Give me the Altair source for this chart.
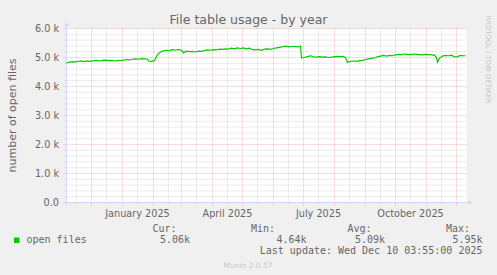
import altair as alt
import pandas as pd

# ---------------- data ----------------
dates = [
    "2024-11-06", "2024-11-09", "2024-11-12", "2024-11-15", "2024-11-18", "2024-11-21",
    "2024-11-24", "2024-11-27", "2024-11-30", "2024-12-03", "2024-12-06", "2024-12-09",
    "2024-12-12", "2024-12-15", "2024-12-18", "2024-12-21", "2024-12-24", "2024-12-27",
    "2024-12-30", "2025-01-02", "2025-01-05", "2025-01-08", "2025-01-11", "2025-01-14",
    "2025-01-17", "2025-01-20", "2025-01-23", "2025-01-26", "2025-01-27", "2025-01-30",
    "2025-02-02", "2025-02-05", "2025-02-08", "2025-02-11", "2025-02-14", "2025-02-17",
    "2025-02-20", "2025-02-23", "2025-02-26", "2025-03-01", "2025-03-03", "2025-03-06",
    "2025-03-09", "2025-03-12", "2025-03-15", "2025-03-18", "2025-03-21", "2025-03-24",
    "2025-03-27", "2025-03-30", "2025-04-02", "2025-04-05", "2025-04-08", "2025-04-11",
    "2025-04-14", "2025-04-17", "2025-04-20", "2025-04-23", "2025-04-26", "2025-04-29",
    "2025-05-02", "2025-05-05", "2025-05-08", "2025-05-11", "2025-05-14", "2025-05-17",
    "2025-05-20", "2025-05-23", "2025-05-26", "2025-05-29", "2025-06-01", "2025-06-04",
    "2025-06-07", "2025-06-10", "2025-06-13", "2025-06-16", "2025-06-19", "2025-06-22",
    "2025-06-25", "2025-06-28", "2025-06-29", "2025-07-02", "2025-07-05", "2025-07-08",
    "2025-07-11", "2025-07-14", "2025-07-17", "2025-07-20", "2025-07-23", "2025-07-26",
    "2025-07-29", "2025-08-01", "2025-08-04", "2025-08-07", "2025-08-10", "2025-08-12",
    "2025-08-14", "2025-08-17", "2025-08-20", "2025-08-23", "2025-08-26", "2025-08-29",
    "2025-09-01", "2025-09-04", "2025-09-07", "2025-09-10", "2025-09-13", "2025-09-16",
    "2025-09-19", "2025-09-22", "2025-09-25", "2025-09-28", "2025-10-01", "2025-10-04",
    "2025-10-07", "2025-10-10", "2025-10-13", "2025-10-16", "2025-10-19", "2025-10-22",
    "2025-10-25", "2025-10-28", "2025-10-31", "2025-11-03", "2025-11-06", "2025-11-09",
    "2025-11-11", "2025-11-12", "2025-11-14", "2025-11-17", "2025-11-20", "2025-11-23",
    "2025-11-26", "2025-11-29", "2025-12-02", "2025-12-05", "2025-12-08", "2025-12-10",
]
values = [
    4810, 4840, 4860, 4850, 4870, 4880,
    4860, 4880, 4870, 4890, 4900, 4880,
    4900, 4910, 4890, 4900, 4880, 4890,
    4900, 4910, 4930, 4920, 4940, 4950,
    4940, 4960, 4950, 4940, 4880, 4870,
    4890, 5100, 5190, 5230, 5250, 5240,
    5270, 5250, 5280, 5250, 5160, 5220,
    5200, 5210, 5190, 5220, 5210, 5240,
    5260, 5250, 5270, 5260, 5290, 5280,
    5300, 5290, 5320, 5300, 5330, 5310,
    5330, 5300, 5320, 5270, 5260, 5280,
    5250, 5290, 5300, 5280, 5310, 5330,
    5350, 5370, 5390, 5370, 5380, 5380,
    5370, 5390, 4990, 5000, 5030, 5060,
    5020, 5010, 5030, 5010, 5020, 5000,
    5010, 5030, 5040, 5030, 5040, 4990,
    4830, 4870, 4880, 4870, 4890, 4900,
    4930, 4950, 4970, 4990, 5020, 5050,
    5070, 5050, 5070, 5060, 5090, 5110,
    5100, 5120, 5110, 5100, 5120, 5110,
    5100, 5090, 5110, 5100, 5090, 5080,
    5000, 4840, 4980, 5050, 5070, 5060,
    5080, 5020, 5030, 5070, 5060, 5060,
]

month_lines = [
    "2024-12-01", "2025-01-01", "2025-02-01", "2025-03-01", "2025-04-01", "2025-05-01",
    "2025-06-01", "2025-07-01", "2025-08-01", "2025-09-01", "2025-10-01", "2025-11-01",
    "2025-12-01",
]
mid_lines = [
    "2024-11-16", "2024-12-16", "2025-01-16", "2025-02-16", "2025-03-16", "2025-04-16",
    "2025-05-16", "2025-06-16", "2025-07-16", "2025-08-16", "2025-09-16", "2025-10-16",
    "2025-11-16",
]
x_tick_dates = ["2025-01-16", "2025-04-16", "2025-07-16", "2025-10-16"]
x_tick_labels = ["January 2025", "April 2025", "July 2025", "October 2025"]
major_y = [0, 1000, 2000, 3000, 4000, 5000, 6000]
y_tick_labels = ["0.0", "1.0 k", "2.0 k", "3.0 k", "4.0 k", "5.0 k", "6.0 k"]
minor_y = [200, 400, 600, 800, 1200, 1400, 1600, 1800, 2200, 2400, 2600, 2800,
           3200, 3400, 3600, 3800, 4200, 4400, 4600, 4800, 5200, 5400, 5600, 5800]

title_text = "File table usage - by year"
y_title = "number of open files"
series_name = "open files"
stat_labels = ["Cur:", "Min:", "Avg:", "Max:"]
stat_values = ["5.06k", "4.64k", "5.09k", "5.95k"]
last_update = "Last update: Wed Dec 10 03:55:00 2025"
footer = "Munin 2.0.57"
watermark = "RRDTOOL / TOBI OETIKER"

# ---------------- styling ----------------
W, H = 400, 174
FONT = "DejaVu Sans"
MONO = "DejaVu Sans Mono"
FONT_COLOR = "#666666"
AXIS_COLOR = "#CFD6F8"
LINE_COLOR = "#00CC00"


def dt(s):
    y, m, d = (int(p) for p in s.split("-"))
    return alt.DateTime(year=y, month=m, date=d, utc=True)


xscale = alt.Scale(type="utc", domain=[dt("2024-11-06"), dt("2025-12-11")])
yscale = alt.Scale(domain=[0, 6000], nice=False, zero=True)

dummy = pd.DataFrame({"a": [0]})

bg = alt.Chart(dummy).mark_rect(color="white").encode(
    x=alt.value(0), x2=alt.value(W), y=alt.value(0), y2=alt.value(H)
)

h_minor = alt.Chart(pd.DataFrame({"g": minor_y})).mark_rule(
    color="#8F8F8F", strokeOpacity=0.35, strokeDash=[1, 1], strokeWidth=1
).encode(y=alt.Y("g:Q", scale=yscale, axis=None), x=alt.value(-2), x2=alt.value(W))

h_major = alt.Chart(pd.DataFrame({"g": major_y})).mark_rule(
    color="#DE4F4F", strokeOpacity=0.38, strokeDash=[1, 1], strokeWidth=1
).encode(y=alt.Y("g:Q", scale=yscale, axis=None), x=alt.value(-3), x2=alt.value(W))

v_minor = alt.Chart(pd.DataFrame({"d": mid_lines})).mark_rule(
    color="#8F8F8F", strokeOpacity=0.35, strokeDash=[1, 1], strokeWidth=1
).encode(x=alt.X("d:T", scale=xscale, axis=None), y=alt.value(0), y2=alt.value(H + 2))

v_major = alt.Chart(pd.DataFrame({"d": month_lines})).mark_rule(
    color="#DE4F4F", strokeOpacity=0.38, strokeDash=[1, 1], strokeWidth=1
).encode(x=alt.X("d:T", scale=xscale, axis=None), y=alt.value(0), y2=alt.value(H + 3))

line = alt.Chart(pd.DataFrame({"date": dates, "v": values})).mark_line(
    color=LINE_COLOR, strokeWidth=1.2
).encode(
    x=alt.X("date:T", scale=xscale, axis=None),
    y=alt.Y("v:Q", scale=yscale, axis=None),
)

y_labels = alt.Chart(pd.DataFrame({"g": major_y, "lab": y_tick_labels})).mark_text(
    font=FONT, fontSize=9.7, color=FONT_COLOR, align="right", baseline="middle"
).encode(y=alt.Y("g:Q", scale=yscale, axis=None), x=alt.value(-7.5), text="lab:N")

x_labels = alt.Chart(pd.DataFrame({"d": x_tick_dates, "lab": x_tick_labels})).mark_text(
    font=FONT, fontSize=9.7, color=FONT_COLOR, align="center", baseline="alphabetic"
).encode(x=alt.X("d:T", scale=xscale, axis=None), y=alt.value(H + 14), text="lab:N")

y_axis_line = alt.Chart(dummy).mark_rule(color=AXIS_COLOR, strokeWidth=1).encode(
    x=alt.value(0), y=alt.value(-3), y2=alt.value(H + 3)
)
x_axis_line = alt.Chart(dummy).mark_rule(color=AXIS_COLOR, strokeWidth=1).encode(
    y=alt.value(H), x=alt.value(-3), x2=alt.value(W + 3)
)
arrow_up = alt.Chart(dummy).mark_point(
    shape="triangle-up", filled=True, color=AXIS_COLOR, size=22, opacity=1
).encode(x=alt.value(0), y=alt.value(-4.5))
arrow_right = alt.Chart(dummy).mark_point(
    shape="triangle-right", filled=True, color=AXIS_COLOR, size=22, opacity=1
).encode(x=alt.value(W + 4), y=alt.value(H))


def txt(s, x, y, size=10, font=MONO, color=FONT_COLOR, align="right",
        baseline="alphabetic", angle=0):
    return alt.Chart(dummy).mark_text(
        text=s, font=font, fontSize=size, color=color, align=align,
        baseline=baseline, angle=angle,
    ).encode(x=alt.value(x), y=alt.value(y))


texts = [
    txt(title_text, 182, -5, size=12.5, font=FONT, align="center"),
    txt(y_title, -53.5, 87, size=11, font=FONT, align="center", baseline="middle", angle=270),
    txt(watermark, 421.5, 31, size=6.8, font=FONT, color="#C4C4C4", align="center",
        baseline="middle", angle=90),
    txt(series_name, -40, 214, align="left"),
    txt(stat_labels[0], 110, 203),
    txt(stat_values[0], 123.5, 214),
    txt(stat_labels[1], 208.5, 203),
    txt(stat_values[1], 240, 214),
    txt(stat_labels[2], 305, 203),
    txt(stat_values[2], 318.5, 214),
    txt(stat_labels[3], 403.5, 203),
    txt(stat_values[3], 416, 214),
    txt(last_update, 416, 225),
    txt(footer, 181.5, 239, size=7.5, font=FONT, color="#C8C8C8", align="center"),
]

swatch = alt.Chart(dummy).mark_rect(color=LINE_COLOR).encode(
    x=alt.value(-52.5), x2=alt.value(-47), y=alt.value(209), y2=alt.value(214.5)
)

chart = alt.layer(
    bg, h_minor, v_minor, h_major, v_major, y_axis_line, x_axis_line,
    arrow_up, arrow_right, line, y_labels, x_labels, swatch, *texts
).properties(
    width=W, height=H, background="#F0F0F0",
    padding={"left": 66.5, "top": 28.5, "right": 30.5, "bottom": 72.5},
    autosize=alt.AutoSizeParams(type="none"),
).configure_view(stroke=None)

chart.save("out.html", embed_options={"renderer": "svg", "actions": False})
